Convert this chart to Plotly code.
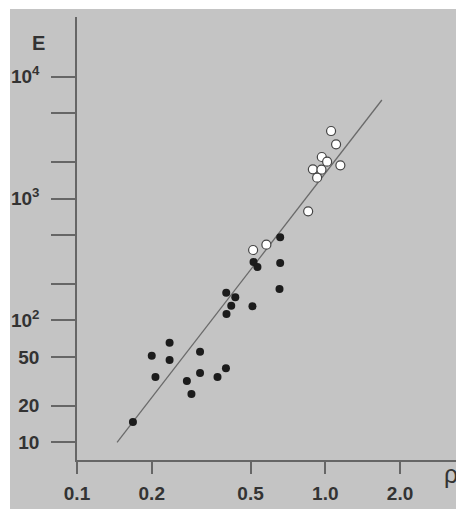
import plotly.graph_objects as go

# --- data ---
FILLED_RHO = [0.168, 0.200, 0.207, 0.236, 0.236, 0.277, 0.289, 0.313, 0.313, 0.368,
              0.398, 0.399, 0.434, 0.418, 0.400, 0.509, 0.654, 0.658, 0.658, 0.514, 0.533]
FILLED_E = [14.7, 51.3, 34.3, 65.6, 47.3, 31.8, 24.9, 55.3, 37.0, 34.3,
            40.5, 168.6, 154.7, 132, 112.8, 130.5, 181, 296, 481, 301, 274]

OPEN_RHO = [1.055, 1.105, 0.968, 1.017, 0.891, 0.965, 1.150, 0.927, 0.853, 0.579, 0.512]
OPEN_E = [3578, 2783, 2190, 2004, 1736, 1723, 1873, 1481, 785, 418, 378]

FIT_RHO = [0.145, 1.69]
FIT_E = [10, 6430]

X_TICKS = [0.1, 0.2, 0.5, 1.0, 2.0]
X_LABELS = ["0.1", "0.2", "0.5", "1.0", "2.0"]
Y_TICKS = [10, 20, 50, 100, 200, 500, 1000, 2000, 5000, 10000]
Y_LABELS = ["10", "20", "50", "10<sup>2</sup>", "", "", "10<sup>3</sup>", "", "", "10<sup>4</sup>"]

BG = "#c4c4c4"
AX = "#666666"
TXT = "#333333"
FONT = "Liberation Sans, Arial, sans-serif"

# page is offset by the 8px body margin
OFF = 8
PAGE_W, PAGE_H = 464, 509
W, H = PAGE_W - OFF, PAGE_H - OFF
PLOT_L, PLOT_T, PLOT_B = 77, 17, 460          # page pixels
L, T, B, R = PLOT_L - OFF, PLOT_T - OFF, H - (PLOT_B - OFF), 0
PW, PH = W - L - R, H - T - B

def px_x(p):
    return (p - PLOT_L) / PW

def px_y(p):
    return (PLOT_B - p) / PH

fig = go.Figure()
fig.add_trace(go.Scatter(x=FIT_RHO, y=FIT_E, mode="lines",
                         line=dict(color="#6a6a6a", width=1.3), hoverinfo="skip"))
fig.add_trace(go.Scatter(x=FILLED_RHO, y=FILLED_E, mode="markers",
                         marker=dict(size=8, color="#1c1c1c", line=dict(width=0))))
fig.add_trace(go.Scatter(x=OPEN_RHO, y=OPEN_E, mode="markers",
                         marker=dict(size=9, color="white", line=dict(width=1.2, color="#444444"))))

fig.add_shape(type="rect", xref="paper", yref="paper",
              x0=px_x(10), x1=px_x(PAGE_W + 10), y0=px_y(PAGE_H + 10), y1=px_y(9),
              fillcolor=BG, line=dict(width=0), layer="below")

fig.add_annotation(text="E", xref="paper", yref="paper", x=px_x(38.5), y=px_y(42.5),
                   showarrow=False, xanchor="center", yanchor="middle",
                   font=dict(family=FONT, size=20, color=TXT, weight="bold"))
fig.add_annotation(text="ρ", xref="paper", yref="paper", x=px_x(451), y=px_y(474),
                   showarrow=False, xanchor="center", yanchor="middle",
                   font=dict(family=FONT, size=25, color=TXT))

fig.update_layout(
    width=W, height=H,
    margin=dict(l=L, r=R, t=T, b=B),
    paper_bgcolor="white",
    plot_bgcolor="rgba(0,0,0,0)",
    showlegend=False,
    font=dict(family=FONT, color=TXT),
)
fig.update_xaxes(type="log", range=[-1.0, 0.5586], tickvals=X_TICKS, ticktext=X_LABELS,
                 showgrid=False, zeroline=False, showline=True, linecolor=AX, linewidth=1.5,
                 ticks="outside", ticklen=12, tickwidth=1.5, tickcolor=AX,
                 ticklabelstandoff=3,
                 tickfont=dict(family=FONT, size=19, color=TXT, weight="bold"))
fig.update_yaxes(type="log", range=[0.8548, 4.489], tickvals=Y_TICKS, ticktext=Y_LABELS,
                 showgrid=False, zeroline=False, showline=True, linecolor=AX, linewidth=1.5,
                 ticks="outside", ticklen=24, tickwidth=1.5, tickcolor=AX,
                 ticklabelstandoff=8,
                 tickfont=dict(family=FONT, size=19, color=TXT, weight="bold"))

fig.write_html("out.html")
